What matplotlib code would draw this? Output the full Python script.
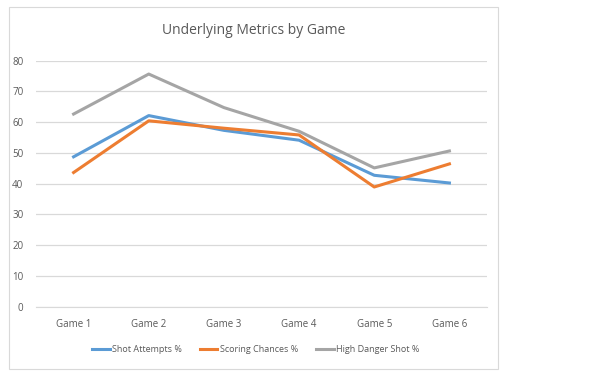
import matplotlib.pyplot as plt
from matplotlib.patches import Rectangle

games = ["Game 1", "Game 2", "Game 3", "Game 4", "Game 5", "Game 6"]
shot_attempts = [48.7, 62.1, 57.3, 54.1, 42.7, 40.2]
scoring_chances = [43.6, 60.4, 58.0, 55.8, 38.9, 46.4]
high_danger = [62.6, 75.6, 64.7, 57.0, 45.1, 50.6]

plt.rcParams['font.family'] = ['Open Sans', 'DejaVu Sans']

fig = plt.figure(figsize=(6.1, 3.79), dpi=100)
fig.patches.append(Rectangle((9/610, 1-369/379), 489/610, 362/379, transform=fig.transFigure,
                             fill=False, edgecolor="#d9d9d9", linewidth=0.8))
ax = fig.add_axes([36/610, 1-306.7/379, 451/610, 246.2/379])

x = range(len(games))
ax.plot(x, shot_attempts, color="#5B9BD5", linewidth=2.2, label="Shot Attempts %")
ax.plot(x, scoring_chances, color="#ED7D31", linewidth=2.2, label="Scoring Chances %")
ax.plot(x, high_danger, color="#A5A5A5", linewidth=2.2, label="High Danger Shot %")

ax.set_xlim(-0.5, 5.5)
ax.set_ylim(0, 80)
ax.set_yticks(range(0, 81, 10))
ax.set_xticks(list(x))
ax.set_xticklabels(games)
ax.grid(axis="y", color="#d9d9d9", linewidth=0.9)
ax.set_axisbelow(True)
for s in ["top", "right", "left"]:
    ax.spines[s].set_visible(False)
ax.spines["bottom"].set_color("#d9d9d9")
ax.tick_params(axis="both", length=0, labelsize=7, colors="#595959")
ax.tick_params(axis="y", pad=9)
ax.tick_params(axis="x", pad=9)

fig.text(254/610, 1-31/379, "Underlying Metrics by Game", ha="center", va="center",
         fontsize=10, color="#595959")
fig.legend(loc="center", bbox_to_anchor=(256/610, 1-350/379), ncol=3, frameon=False,
           fontsize=6.5, labelcolor="#595959", handlelength=1.9, columnspacing=2.0,
           handletextpad=0.3)

fig.savefig("out.png", dpi=100)
